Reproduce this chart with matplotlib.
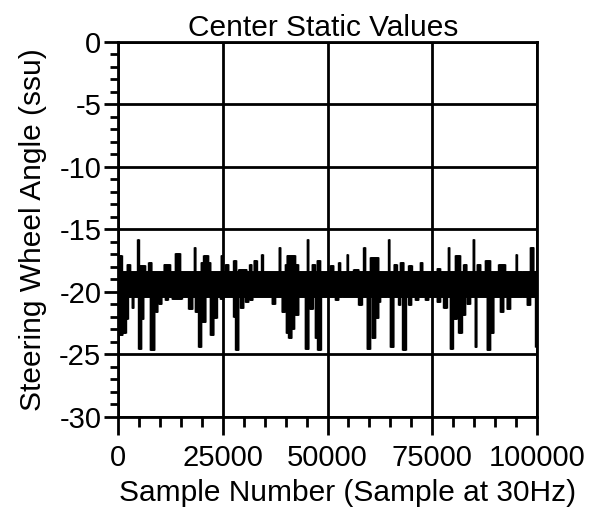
import numpy as np
import matplotlib
matplotlib.use("Agg")
import matplotlib.pyplot as plt

plt.rcParams['font.family'] = ['Liberation Sans', 'DejaVu Sans']

# ---- data ----
x_ticks = [0, 25000, 50000, 75000, 100000]
x_tick_labels = ["0", "25000", "50000", "75000", "100000"]
y_ticks = [0, -5, -10, -15, -20, -25, -30]
y_tick_labels = ["0", "-5", "-10", "-15", "-20", "-25", "-30"]

band_top = -18.35
band_bottom = -20.4

# upward excursions: (start sample, end sample, value)
up_start = [80, 2070, 4600, 4850, 7240, 10820, 13600, 18150, 19800, 20400, 24500,
            25540, 27520, 28720, 31340, 32300, 34200, 38400, 39900, 40250, 45100, 46220, 47410,
            50600, 52580, 54500, 56160, 58550, 60140, 64450, 65710, 67300, 69290, 72080,
            76050, 78750, 80430, 82420, 84700, 85600, 87590, 90770, 94900, 98330]
up_end = [875, 2860, 4950, 6440, 8030, 12410, 14800, 18500, 21960, 21500, 24800,
          26330, 28160, 30710, 31900, 33090, 34500, 38700, 43000, 42240, 45400, 47020, 48210,
          51390, 52980, 54800, 57360, 58950, 62130, 64750, 66510, 68100, 70090, 72630,
          76850, 79050, 81620, 83210, 85000, 86400, 88780, 92360, 95200, 99120]
up_val = [-17.1, -17.8, -15.8, -17.9, -17.6, -17.8, -16.9, -16.4, -17.6, -17.1, -17.1,
          -17.8, -17.5, -18.2, -17.8, -17.5, -17.0, -16.4, -17.8, -17.1, -15.8, -17.8, -17.5,
          -17.9, -17.6, -17.0, -18.2, -16.4, -17.2, -15.8, -17.8, -17.6, -17.9, -17.6,
          -18.1, -16.4, -17.1, -17.8, -15.8, -17.8, -17.5, -17.8, -17.0, -16.4]

# downward excursions: (start sample, end sample, value)
down_start = [240, 1030, 1830, 3260, 4850, 5490, 7640, 8830, 9630, 11220, 12810, 16780, 18370,
              19170, 19970, 21960, 22750, 24340,
              27520, 28000, 29120, 30310, 31340, 36670, 39060, 40090, 40650, 41450, 42240, 44630,
              45660, 47020, 47570,
              51790, 57360, 59350, 60540, 61340, 62130, 64920, 66900, 67860, 69290, 70880, 73270,
              76050, 77640, 79230, 80030, 81220, 82020, 83210, 85200, 87980, 88780, 91170, 92760,
              97530, 99600]
down_end = [1030, 1830, 2300, 3660, 5490, 6050, 8670, 9470, 10420, 11850, 15200, 17740, 19170,
            19800, 20920, 22750, 23550, 25140,
            28000, 28720, 29910, 31100, 32140, 37470, 39860, 40650, 41450, 42000, 43040, 45420,
            46460, 47570, 48370,
            52580, 58150, 60140, 61340, 62130, 62530, 65710, 67300, 68650, 69920, 71680, 74060,
            76850, 78440, 79870, 80830, 82020, 82820, 84010, 85600, 88780, 89580, 91960, 93550,
            98330, 100000]
down_val = [-23.5, -23.3, -22.2, -21.3, -24.6, -22.2, -24.7, -21.6, -21.0, -20.7, -20.6, -21.4, -21.6,
            -24.45, -22.45, -23.5, -22.1, -20.6,
            -22.0, -24.7, -21.3, -20.85, -20.7, -21.0, -21.6, -23.3, -23.7, -23.0, -21.9, -24.6,
            -21.4, -23.7, -24.7,
            -20.7, -21.1, -24.6, -23.7, -22.1, -20.85, -24.45, -21.1, -24.7, -21.1, -20.7, -20.7,
            -20.85, -21.3, -24.6, -22.2, -23.3, -21.9, -21.0, -24.45, -24.7, -23.3, -21.6, -21.4,
            -21.1, -24.45]

# ---- build envelope on the sample axis ----
samples = np.arange(0, 100001, 60)
hi = np.full(samples.shape, band_top, dtype=float)
lo = np.full(samples.shape, band_bottom, dtype=float)
for s, e, v in zip(up_start, up_end, up_val):
    m = (samples >= s) & (samples <= e)
    hi[m] = np.maximum(hi[m], v)
for s, e, v in zip(down_start, down_end, down_val):
    m = (samples >= s) & (samples <= e)
    lo[m] = np.minimum(lo[m], v)

fig = plt.figure(figsize=(6.04, 5.28), dpi=100)
ax = fig.add_axes([118/604, 1-416.5/528, (537-118)/604, (416.5-42)/528])

ax.vlines(samples, lo, hi, colors='black', linewidth=1.0, zorder=3)

ax.set_xlim(0, 100000)
ax.set_ylim(-30, 0)
ax.set_xticks(x_ticks)
ax.set_xticklabels(x_tick_labels)
ax.set_yticks(y_ticks)
ax.set_yticklabels(y_tick_labels)
ax.set_xticks(np.arange(0, 100001, 5000), minor=True)
ax.set_yticks(np.arange(-30, 1, 1), minor=True)

ax.grid(True, which='major', color='black', linewidth=2.0)
for sp in ax.spines.values():
    sp.set_linewidth(2.0)
ax.tick_params(axis='x', which='major', direction='out', length=13, width=2.0, labelsize=21, pad=7)
ax.tick_params(axis='x', which='minor', direction='out', length=7, width=2.0)
ax.tick_params(axis='y', which='major', direction='out', length=10, width=2.0, labelsize=21, pad=2)
ax.tick_params(axis='y', which='minor', direction='out', length=5.5, width=2.0)

ax.set_title("Center Static Values", fontsize=21.5, pad=3)
ax.title.set_x(0.49)
ax.set_xlabel("Sample Number (Sample at 30Hz)", fontsize=21.5, labelpad=5)
ax.xaxis.label.set_x(0.547)
ax.set_ylabel("Steering Wheel Angle (ssu)", fontsize=21.5, labelpad=9)

fig.savefig("out.png", dpi=100)
